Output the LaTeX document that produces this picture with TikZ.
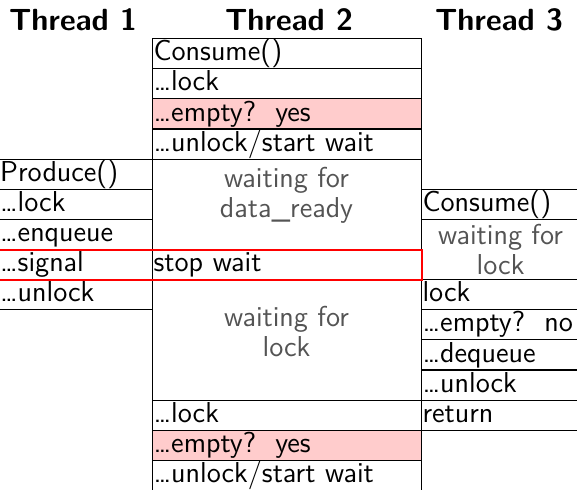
\documentclass[tikz,border=0pt]{standalone}
\begin{document}
\begin{tikzpicture}[x=0.5pt,y=-0.5pt,
  font=\sffamily\fontsize{14.4}{15}\selectfont,
  cell/.style={draw=black, line width=0.6pt, anchor=north west,
    inner xsep=0.5pt, inner ysep=0pt, minimum height=15.065pt,
    text height=10.6pt, text depth=3.5pt, align=left, text width=#1},
  c1/.style={cell=75.75pt},
  c2/.style={cell=133.5pt},
  c3/.style={cell=78pt},
  hot/.style={fill=red!20},
  openbot/.style={minimum height=25.065pt, text depth=13.5pt},
  block/.style={draw=black, line width=0.6pt, anchor=north west, inner sep=0pt},
  waittext/.style={text=black!67, align=center, inner sep=0pt},
  head/.style={font=\sffamily\bfseries\fontsize{15.3}{17}\selectfont, inner sep=0pt},
  stopbox/.style={draw=red, line width=1pt, anchor=north west, inner sep=0pt,
    minimum width=213pt, minimum height=15.065pt}
]
\useasboundingbox (0,0) rectangle (577,490);
\clip (0,0) rectangle (577,490);

% headers
\node[head] (h1) at (73,19.5) {Thread 1};
\node[head] (h2) at (289,19.5) {Thread 2};
\node[head] (h3) at (499,19.5) {Thread 3};

% Thread 2
\node[c2] (t2a) at (152,38) {Consume()};
\node[c2] (t2b) at (152,68.13) {…lock};
\node[c2,hot] (t2c) at (152,98.26) {…empty?\ \ yes};
\node[c2] (t2d) at (152,128.39) {…unlock/start wait};
\node[block, minimum width=134.5pt, minimum height=45.195pt] (t2w1) at (152,158.52) {};
\node[waittext] (t2w1t) at (286.5,195) {waiting for\\data\_ready};
\node[c2] (t2e) at (152,248.91) {stop wait};
\node[block, minimum width=134.5pt, minimum height=60.26pt] (t2w2) at (152,279.04) {};
\node[waittext] (t2w2t) at (286.5,332) {waiting for\\lock};
\node[c2] (t2f) at (152,399.56) {…lock};
\node[c2,hot] (t2g) at (152,429.69) {…empty?\ \ yes};
\node[c2,openbot] (t2h) at (152,459.82) {…unlock/start wait};

% Thread 1
\node[c1] (t1a) at (-1.5,158.52) {Produce()};
\node[c1] (t1b) at (-1.5,188.65) {…lock};
\node[c1] (t1c) at (-1.5,218.78) {…enqueue};
\node[c1] (t1d) at (-1.5,248.91) {…signal};
\node[c1] (t1e) at (-1.5,279.04) {…unlock};

% Thread 3
\node[c3] (t3a) at (421,188.65) {Consume()};
\node[block, minimum width=79pt, minimum height=30.13pt] (t3w) at (421,218.78) {};
\node[waittext] (t3wt) at (t3w.center) {waiting for\\lock};
\node[c3] (t3b) at (421,279.04) {lock};
\node[c3] (t3c) at (421,309.17) {…empty?\ \ no};
\node[c3] (t3d) at (421,339.3) {…dequeue};
\node[c3] (t3e) at (421,369.43) {…unlock};
\node[c3] (t3f) at (421,399.56) {return};

% highlight
\node[stopbox] (stop) at (-5,248.91) {};
\end{tikzpicture}
\end{document}
